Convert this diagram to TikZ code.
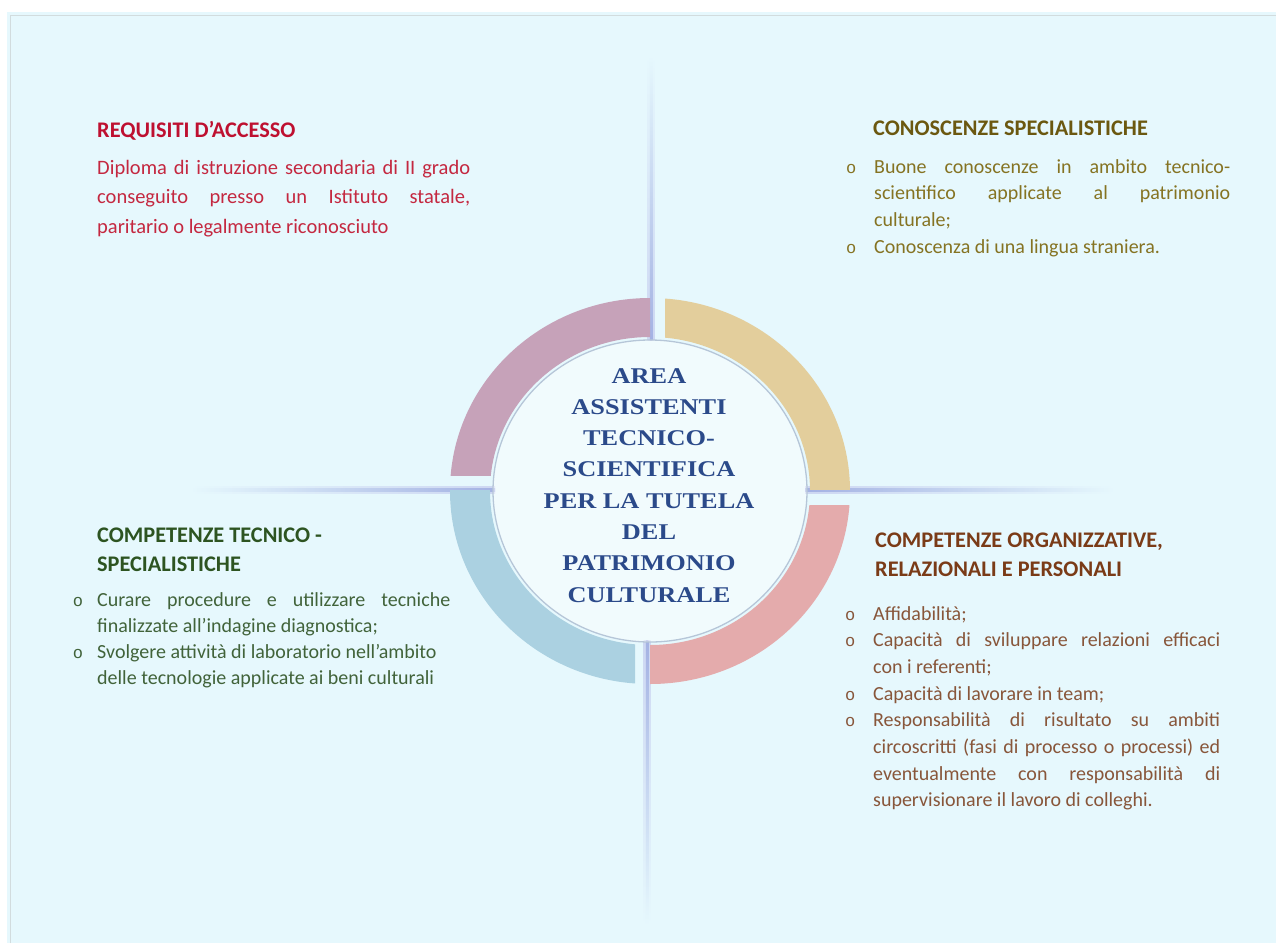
\documentclass[tikz,border=0pt]{standalone}
\usepackage{fontspec}
\usepackage{graphicx}
\setmainfont{Carlito}
\newfontfamily\serifb{Liberation Serif}
\newfontfamily\monof{Liberation Mono}
\definecolor{bg}{HTML}{E6F8FD}
\definecolor{framegray}{HTML}{D2DCDE}
\definecolor{ringA}{HTML}{C6A2B9}
\definecolor{ringB}{HTML}{E3CE9C}
\definecolor{ringC}{HTML}{E4ABAC}
\definecolor{ringD}{HTML}{ABD1E1}
\definecolor{ray}{HTML}{A4B2E3}
\definecolor{rayhalo}{HTML}{CDD7F2}
\definecolor{innerline}{HTML}{B6C6D8}
\definecolor{ctext}{HTML}{2B4A8A}
\definecolor{tlH}{HTML}{BE1030}
\definecolor{tlB}{HTML}{C42840}
\definecolor{trH}{HTML}{6B5810}
\definecolor{trB}{HTML}{857322}
\definecolor{blH}{HTML}{2D5421}
\definecolor{blB}{HTML}{41633A}
\definecolor{brH}{HTML}{7A3B17}
\definecolor{brB}{HTML}{88563A}
\newcommand\jline[2]{\hbox to #1{#2}}
\newcommand\lline[1]{\hbox{#1}}
\newcommand\bul[1]{\llap{{\monof\fontsize{17}{17}\selectfont o}\hspace{#1}}}
\tikzset{
  head/.style={anchor=base west, inner sep=0, font=\bfseries\fontsize{22.3}{29.5}\selectfont},
  body/.style={anchor=base west, inner sep=0, font=\fontsize{20}{26.7}\selectfont},
}
\begin{document}
\begin{tikzpicture}[x=1pt,y=-1pt]
\useasboundingbox (0,0) rectangle (1276,943);
\fill[white] (0,0) rectangle (1276,943);
\fill[bg] (7,12) rectangle (1276,943);
\draw[framegray, line width=1.5] (10.5,943) -- (10.5,15.5) -- (1276,15.5);

% rays (soft halo + core), faded at the outer ends
\shade[top color=bg, middle color=rayhalo, bottom color=rayhalo] (647.5,55) rectangle (654.5,340);
\shade[top color=bg, middle color=ray, bottom color=ray] (649.8,55) rectangle (652.3,340);
\shade[top color=rayhalo, middle color=rayhalo, bottom color=bg] (643.5,640) rectangle (650.5,925);
\shade[top color=ray, middle color=ray, bottom color=bg] (645.8,640) rectangle (648.3,925);
\shade[left color=bg, middle color=rayhalo, right color=rayhalo] (190,486.5) rectangle (495,493.5);
\shade[left color=bg, middle color=ray, right color=ray] (190,488.8) rectangle (495,491.3);
\shade[left color=rayhalo, middle color=rayhalo, right color=bg] (805,486.5) rectangle (1115,493.5);
\shade[left color=ray, middle color=ray, right color=bg] (805,488.8) rectangle (1115,491.3);

% ring quadrants (pinwheel gaps)
\begin{scope}
\clip (400,250) rectangle (650,475);
\fill[ringA, even odd rule] (650,491) ellipse [x radius=200, y radius=193] (650,491) ellipse [x radius=160, y radius=154];
\end{scope}
\begin{scope}
\clip (665,250) rectangle (900,489);
\fill[ringB, even odd rule] (650,491) ellipse [x radius=200, y radius=193] (650,491) ellipse [x radius=160, y radius=154];
\end{scope}
\begin{scope}
\clip (650,505) rectangle (900,720);
\fill[ringC, even odd rule] (650,491) ellipse [x radius=200, y radius=193] (650,491) ellipse [x radius=160, y radius=154];
\end{scope}
\begin{scope}
\clip (400,490) rectangle (635,720);
\fill[ringD, even odd rule] (650,491) ellipse [x radius=200, y radius=193] (650,491) ellipse [x radius=160, y radius=154];
\end{scope}

% inner disk
\fill[white, opacity=0.45] (650,491) ellipse [x radius=157, y radius=151];
\draw[innerline, line width=1.3] (650,491) ellipse [x radius=157, y radius=151];

% centre title
\node[anchor=base, inner sep=0, text=ctext] (title) at (649,383)
  {\scalebox{1.17}[1]{\serifb\bfseries\fontsize{22.5}{31.3}\selectfont
   \begin{tabular}[t]{@{}c@{}}AREA\\ASSISTENTI\\TECNICO-\\SCIENTIFICA\\PER LA TUTELA\\DEL\\PATRIMONIO\\CULTURALE\end{tabular}}};

% top-left block
\node[head, text=tlH] (h1) at (97,137) {REQUISITI D’ACCESSO};
\node[body, text=tlB, font=\fontsize{20.5}{29.5}\selectfont] (b1) at (97,174)
  {\vtop{\baselineskip=29.5pt
   \jline{373pt}{Diploma di istruzione secondaria di II grado}
   \jline{373pt}{conseguito presso un Istituto statale,}
   \lline{paritario o legalmente riconosciuto}}};

% top-right block
\node[head, text=trH] (h2) at (873,135) {CONOSCENZE SPECIALISTICHE};
\node[body, text=trB] (b2) at (874,173)
  {\vtop{\baselineskip=26.7pt
   \jline{356pt}{\bul{18pt}Buone conoscenze in ambito tecnico-}
   \jline{356pt}{scientifico applicate al patrimonio}
   \lline{culturale;}
   \lline{\bul{18pt}Conoscenza di una lingua straniera.}}};

% bottom-left block
\node[head, text=blH] (h3) at (97,542)
  {\vtop{\baselineskip=29.5pt \lline{COMPETENZE TECNICO -}\lline{SPECIALISTICHE}}};
\node[body, text=blB] (b3) at (97,606)
  {\vtop{\baselineskip=26.3pt
   \jline{353pt}{\bul{14pt}Curare procedure e utilizzare tecniche}
   \lline{finalizzate all’indagine diagnostica;}
   \lline{\bul{14pt}Svolgere attività di laboratorio nell’ambito}
   \lline{delle tecnologie applicate ai beni culturali}}};

% bottom-right block
\node[head, text=brH] (h4) at (875,547)
  {\vtop{\baselineskip=29pt \lline{COMPETENZE ORGANIZZATIVE,}\lline{RELAZIONALI E PERSONALI}}};
\node[body, text=brB] (b4) at (873,620)
  {\vtop{\baselineskip=26.7pt
   \lline{\bul{18pt}Affidabilità;}
   \jline{347pt}{\bul{18pt}Capacità di sviluppare relazioni efficaci}
   \lline{con i referenti;}
   \lline{\bul{18pt}Capacità di lavorare in team;}
   \jline{347pt}{\bul{18pt}Responsabilità di risultato su ambiti}
   \jline{347pt}{circoscritti (fasi di processo o processi) ed}
   \jline{347pt}{eventualmente con responsabilità di}
   \lline{supervisionare il lavoro di colleghi.}}};
\end{tikzpicture}
\end{document}
